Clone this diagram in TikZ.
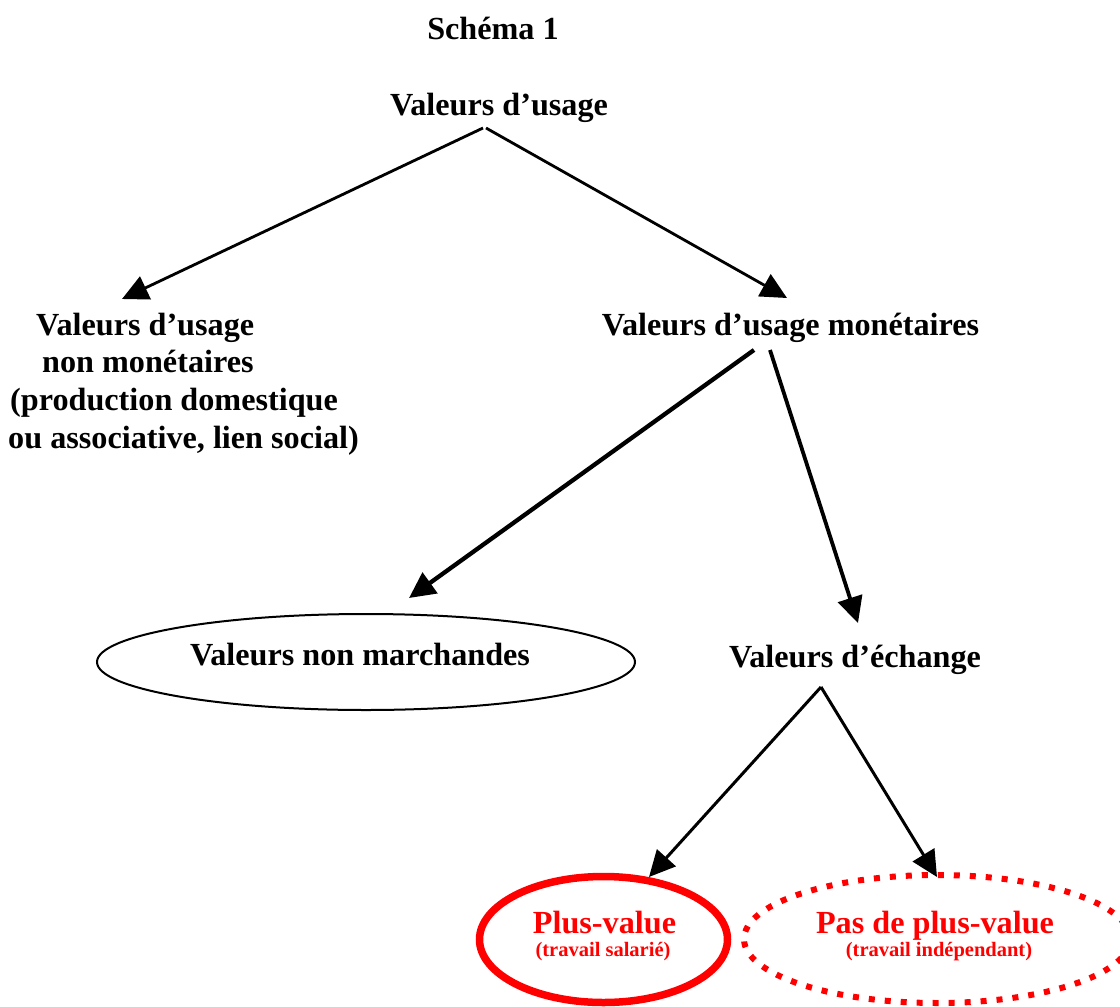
\documentclass[tikz,border=0pt]{standalone}
\usepackage{fontspec}
\setmainfont{Liberation Serif}
\usetikzlibrary{arrows.meta,shapes.geometric}
\definecolor{pvred}{RGB}{255,0,0}
\begin{document}
\begin{tikzpicture}[x=1pt,y=-1pt,
  lbl/.style={anchor=base,inner sep=0pt,font=\fontsize{32.2}{37.5}\selectfont\bfseries},
  lblw/.style={lbl,anchor=base west},
  sml/.style={anchor=base,inner sep=0pt,font=\fontsize{20.5}{24}\selectfont\bfseries},
  conn/.style={line width=2.8pt,-{Triangle[length=26pt,width=25pt]}},
  connthick/.style={conn,line width=4.3pt},
  connmid/.style={conn,line width=3pt},
  oval/.style={draw,ellipse,inner sep=0pt}]
\useasboundingbox (0,0) rectangle (1120,1007);
% texts
\node[lbl] (title) at (493,39) {Schéma 1};
\node[lbl] (vu) at (499,115) {Valeurs d’usage};
\node[lblw] (nm1) at (36,335) {Valeurs d’usage};
\node[lblw] (nm2) at (42,372) {non monétaires};
\node[lblw] (nm3) at (10,410) {(production domestique};
\node[lblw] (nm4) at (8,448) {ou associative, lien social)};
\node[lbl] (vum) at (790.5,335) {Valeurs d’usage monétaires};
\node[oval,line width=2pt,minimum width=538pt,minimum height=96pt] (vnmE) at (366,662) {};
\node[lbl] (vnm) at (360,665) {Valeurs non marchandes};
\node[lbl] (ve) at (855,667) {Valeurs d’échange};
\node[oval,draw=pvred,line width=7.5pt,minimum width=248pt,minimum height=126pt] (pvE) at (603.5,939.5) {};
\node[lbl,text=pvred] (pv) at (604.5,933) {Plus-value};
\node[sml,text=pvred] (pvs) at (603,956) {(travail salarié)};
\node[oval,draw=pvred,line width=6pt,dash pattern=on 6pt off 10pt,minimum width=386pt,minimum height=128pt] (ppvE) at (937,939) {};
\node[lbl,text=pvred] (ppv) at (935,933) {Pas de plus-value};
\node[sml,text=pvred] (ppvs) at (939,956) {(travail indépendant)};
% connector end points
\coordinate (s1) at (483,128);
\coordinate (s2) at (486,128);
\coordinate (t1) at (122,299);
\coordinate (t2) at (787,298);
\coordinate (s3) at (754,350);
\coordinate (s4) at (770,350);
\coordinate (t3) at (409,598);
\coordinate (t4) at (858,623);
\coordinate (s5) at (821,687);
\coordinate (t5) at (649,877);
\coordinate (t6) at (937,877);
% connectors
\draw[conn] (s1) -- (t1);
\draw[conn] (s2) -- (t2);
\draw[connthick] (s3) -- (t3);
\draw[connthick,line width=3.8pt] (s4) -- (t4);
\draw[connmid] (s5) -- (t5);
\draw[connmid] (s5) -- (t6);
\end{tikzpicture}
\end{document}
